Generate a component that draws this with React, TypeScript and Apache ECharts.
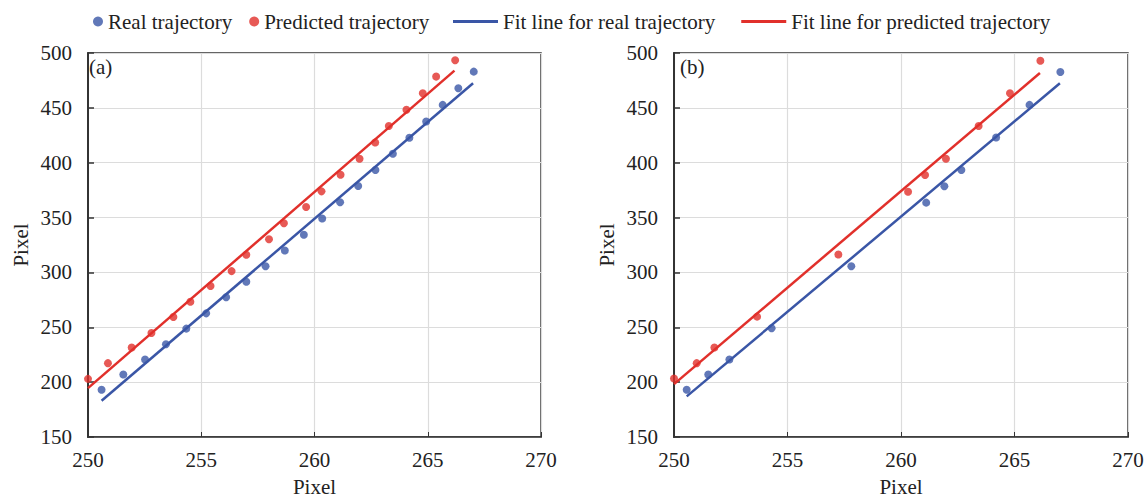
import React, { useEffect, useRef } from "react";
import * as echarts from "echarts";

const FONT = '"Liberation Serif", "Times New Roman", serif';
const BLUE = "#3A56A6";
const RED = "#E1302B";

const xTicks = { min: 250, max: 270, interval: 5 };
const yTicks = { min: 150, max: 500, interval: 50 };

const seriesNames = [
  "Real trajectory",
  "Predicted trajectory",
  "Fit line for real trajectory",
  "Fit line for predicted trajectory",
];
const panelLabels = ["(a)", "(b)"];

const realA: number[][] = [
  [250.6, 193.0], [251.56, 207.0], [252.52, 220.6], [253.44, 234.5], [254.34, 248.8],
  [255.22, 262.7], [256.1, 277.3], [256.99, 291.5], [257.84, 305.7], [258.69, 320.0],
  [259.53, 334.4], [260.34, 349.1], [261.13, 363.9], [261.93, 378.8], [262.69, 393.4],
  [263.46, 408.2], [264.19, 422.7], [264.93, 437.5], [265.66, 452.7], [266.35, 467.9],
  [267.03, 483.0],
];
const predA: number[][] = [
  [250.0, 203.0], [250.88, 217.3], [251.93, 231.5], [252.8, 244.8], [253.77, 259.4],
  [254.52, 273.3], [255.41, 287.6], [256.34, 301.2], [256.99, 316.1], [257.99, 330.3],
  [258.65, 344.8], [259.63, 359.7], [260.31, 373.9], [261.15, 389.1], [261.99, 403.6],
  [262.68, 418.5], [263.28, 433.4], [264.06, 448.2], [264.78, 463.3], [265.37, 478.5],
  [266.21, 493.4],
];
const fitRealA: number[][] = [[250.6, 183.1], [267.0, 472.4]];
const fitPredA: number[][] = [[250.0, 194.5], [266.18, 483.9]];

const realB: number[][] = [
  [250.56, 193.0], [251.51, 207.0], [252.44, 220.6], [254.3, 249.1], [257.81, 305.7],
  [261.11, 363.6], [261.91, 378.5], [262.66, 393.4], [264.19, 423.0], [265.66, 452.7],
  [267.02, 482.7],
];
const predB: number[][] = [
  [250.0, 203.3], [251.0, 217.3], [251.78, 231.5], [253.66, 259.7], [257.24, 316.4],
  [260.31, 373.6], [261.06, 388.8], [261.98, 403.6], [263.42, 433.4], [264.8, 463.3],
  [266.14, 493.0],
];
const fitRealB: number[][] = [[250.56, 187.0], [267.0, 472.4]];
const fitPredB: number[][] = [[250.0, 198.2], [266.12, 481.8]];

function makeX(gridIndex: number) {
  return {
    type: "value",
    gridIndex,
    min: xTicks.min,
    max: xTicks.max,
    interval: xTicks.interval,
    name: "Pixel",
    nameLocation: "middle",
    nameGap: 39,
    nameTextStyle: { fontFamily: FONT, fontSize: 21, color: "#222" },
    axisLine: { show: true, lineStyle: { color: "#333", width: 1.5 } },
    axisTick: { show: true, inside: true, length: 5, lineStyle: { color: "#333" } },
    axisLabel: { fontFamily: FONT, fontSize: 21, color: "#222", margin: 12 },
    splitLine: { show: true, lineStyle: { color: "#dcdcdc", width: 1.2 } },
  };
}
function makeY(gridIndex: number) {
  return {
    type: "value",
    gridIndex,
    min: yTicks.min,
    max: yTicks.max,
    interval: yTicks.interval,
    name: "Pixel",
    nameLocation: "middle",
    nameGap: 57,
    nameTextStyle: { fontFamily: FONT, fontSize: 21, color: "#222" },
    axisLine: { show: true, lineStyle: { color: "#333", width: 2 } },
    axisTick: { show: true, inside: true, length: 6, lineStyle: { color: "#333", width: 1.5 } },
    axisLabel: { fontFamily: FONT, fontSize: 21, color: "#222", margin: 16 },
    splitLine: { show: true, lineStyle: { color: "#dcdcdc", width: 1.2 } },
  };
}

function scatter(name: string, data: number[][], color: string, idx: number) {
  return {
    type: "scatter",
    name,
    xAxisIndex: idx,
    yAxisIndex: idx,
    data,
    symbol: "circle",
    symbolSize: 8,
    itemStyle: { color },
    z: 3,
  };
}
function fit(name: string, data: number[][], color: string, idx: number) {
  return {
    type: "line",
    name,
    xAxisIndex: idx,
    yAxisIndex: idx,
    data,
    symbol: "none",
    showSymbol: false,
    lineStyle: { color, width: 2.5 },
    itemStyle: { color },
    z: 2,
  };
}

export default function App() {
  const ref = useRef<HTMLDivElement>(null);
  useEffect(() => {
    if (!ref.current) return;
    const chart = echarts.init(ref.current, undefined, { renderer: "svg" });
    chart.setOption({
      animation: false,
      backgroundColor: "#fff",
      textStyle: { fontFamily: FONT },
      legend: [
        {
          left: 88,
          top: 6,
          itemWidth: 10,
          itemHeight: 10,
          itemGap: 17,
          data: [
            { name: seriesNames[0], icon: "circle" },
            { name: seriesNames[1], icon: "circle" },
          ],
          textStyle: { fontFamily: FONT, fontSize: 21, color: "#222" },
        },
        {
          left: 448,
          top: 6,
          itemWidth: 45,
          itemHeight: 3,
          itemGap: 26,
          data: [
            { name: seriesNames[2], icon: "rect" },
            { name: seriesNames[3], icon: "rect" },
          ],
          textStyle: { fontFamily: FONT, fontSize: 21, color: "#222" },
        },
      ],
      grid: [
        { left: 88, top: 53, width: 453, height: 384, outerBoundsMode: "none", containLabel: false, show: true, borderColor: "#333", borderWidth: 1.5, backgroundColor: "transparent" },
        { left: 674, top: 53, width: 454, height: 384, outerBoundsMode: "none", containLabel: false, show: true, borderColor: "#333", borderWidth: 1.5, backgroundColor: "transparent" },
      ],
      xAxis: [makeX(0), makeX(1)],
      yAxis: [makeY(0), makeY(1)],
      graphic: [
        { type: "text", left: 89, top: 56, style: { text: panelLabels[0], font: `21px ${FONT}`, fill: "#222" } },
        { type: "text", left: 680, top: 56, style: { text: panelLabels[1], font: `21px ${FONT}`, fill: "#222" } },
      ],
      series: [
        fit(seriesNames[2], fitRealA, BLUE, 0),
        fit(seriesNames[3], fitPredA, RED, 0),
        scatter(seriesNames[0], realA, BLUE, 0),
        scatter(seriesNames[1], predA, RED, 0),
        fit(seriesNames[2], fitRealB, BLUE, 1),
        fit(seriesNames[3], fitPredB, RED, 1),
        scatter(seriesNames[0], realB, BLUE, 1),
        scatter(seriesNames[1], predB, RED, 1),
      ],
    });
    return () => chart.dispose();
  }, []);
  return (
    <div
      ref={ref}
      style={{ position: "fixed", left: 0, top: 0, width: 1145, height: 497, background: "#fff" }}
    />
  );
}
